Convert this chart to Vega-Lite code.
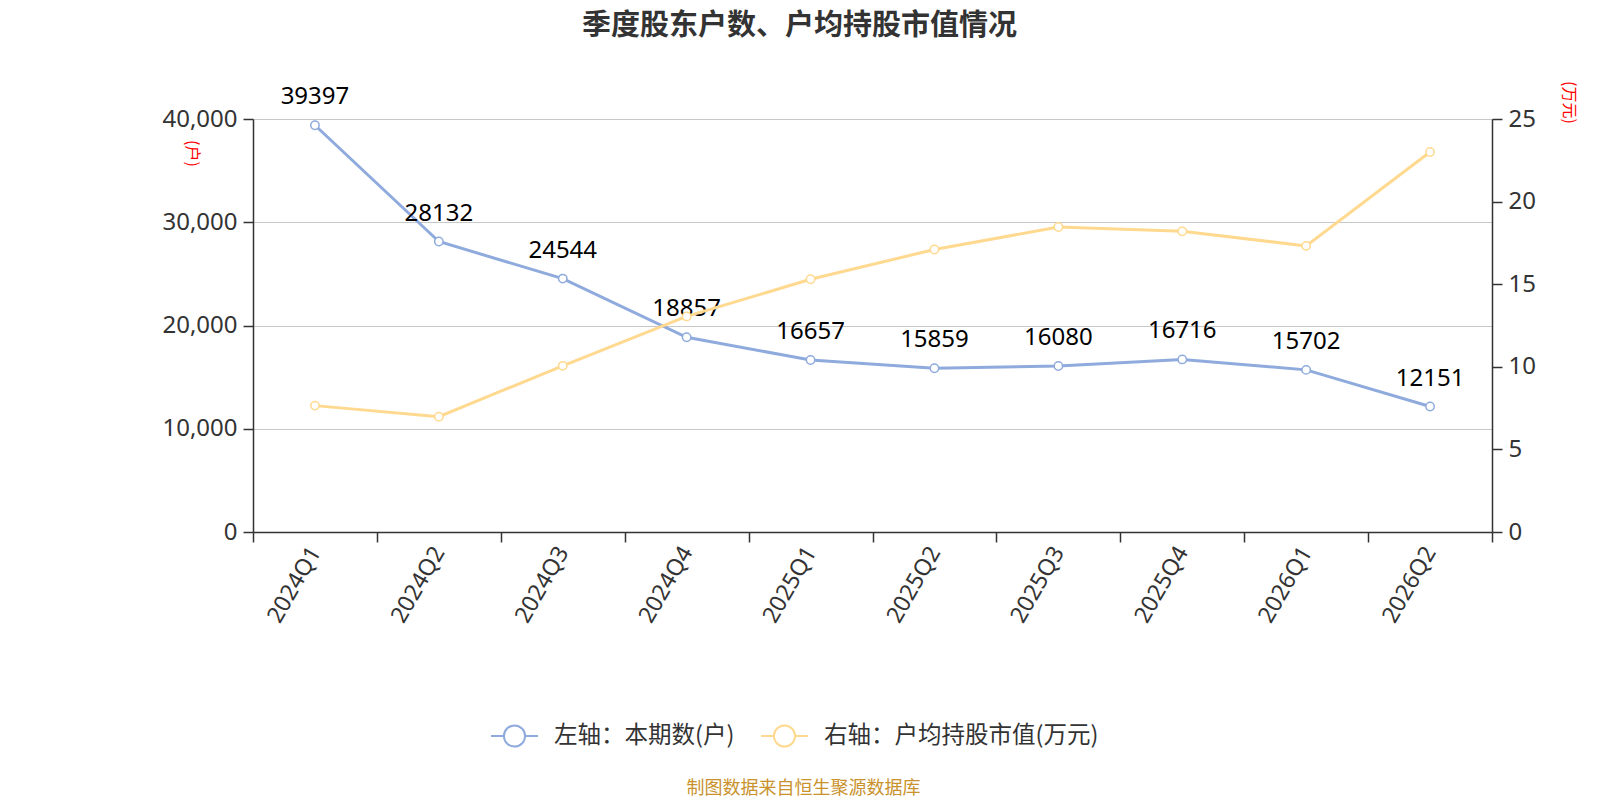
{
  "$schema": "https://vega.github.io/schema/vega-lite/v6.json",
  "width": 1239,
  "height": 413,
  "autosize": {"type": "none"},
  "padding": {"left": 253, "top": 119, "right": 108, "bottom": 268},
  "background": "white",
  "title": {
    "text": "季度股东户数、户均持股市值情况",
    "font": "Noto Sans CJK SC",
    "fontSize": 29,
    "fontWeight": "bold",
    "color": "#333333",
    "anchor": "middle",
    "frame": "group",
    "dx": -73,
    "offset": 40
  },
  "config": {
    "font": "Noto Sans CJK SC",
    "view": {"stroke": null}
  },
  "data": {
    "values": [
      {"quarter": "2024Q1", "holders": 39397, "avgValue": 7.65},
      {"quarter": "2024Q2", "holders": 28132, "avgValue": 6.98},
      {"quarter": "2024Q3", "holders": 24544, "avgValue": 10.06},
      {"quarter": "2024Q4", "holders": 18857, "avgValue": 13.05},
      {"quarter": "2025Q1", "holders": 16657, "avgValue": 15.3},
      {"quarter": "2025Q2", "holders": 15859, "avgValue": 17.1},
      {"quarter": "2025Q3", "holders": 16080, "avgValue": 18.46},
      {"quarter": "2025Q4", "holders": 16716, "avgValue": 18.2},
      {"quarter": "2026Q1", "holders": 15702, "avgValue": 17.32},
      {"quarter": "2026Q2", "holders": 12151, "avgValue": 23.0}
    ]
  },
  "encoding": {
    "x": {
      "field": "quarter",
      "type": "ordinal",
      "sort": null,
      "scale": {"type": "band", "paddingInner": 0, "paddingOuter": 0},
      "axis": {
        "title": "制图数据来自恒生聚源数据库",
        "titleColor": "#c9922d",
        "titleFont": "Noto Sans CJK SC",
        "titleFontSize": 18,
        "titleFontWeight": "normal",
        "titleX": 550,
        "titleY": 256,
        "titleAlign": "center",
        "titleBaseline": "middle",
        "labelAngle": -60,
        "labelAlign": "right",
        "labelBaseline": "middle",
        "labelFontSize": 23,
        "labelColor": "#333333",
        "labelPadding": 6,
        "labelFont": "Noto Sans",
        "domainColor": "#333333",
        "domainWidth": 1.5,
        "tickColor": "#333333",
        "tickWidth": 1.5,
        "tickSize": 10,
        "tickBand": "extent",
        "grid": false
      }
    }
  },
  "layer": [
    {
      "layer": [
        {
          "mark": {"type": "line", "strokeWidth": 3},
          "encoding": {
            "y": {"field": "holders", "type": "quantitative"},
            "color": {
              "datum": "左轴：本期数(户)",
              "scale": {
                "domain": ["左轴：本期数(户)", "右轴：户均持股市值(万元)"],
                "range": ["#8faadc", "#ffd98f"]
              },
              "legend": {
                "title": null,
                "orient": "none",
                "direction": "horizontal",
                "columns": 2,
                "legendX": 237,
                "legendY": 592,
                "symbolType": "M-1,0H-0.45M0.45,0H1M-0.45,0A0.45,0.45 0 1,1 0.45,0A0.45,0.45 0 1,1 -0.45,0Z",
                "symbolSize": 2209,
                "symbolStrokeWidth": 2,
                "symbolFillColor": "white",
                "symbolOpacity": 1,
                "labelFontSize": 23.5,
                "labelColor": "#333333",
                "labelFont": "Noto Sans CJK SC",
                "labelOffset": 15,
                "labelLimit": 400,
                "columnPadding": 22
              }
            }
          }
        },
        {
          "mark": {"type": "point", "shape": "circle", "filled": true, "fill": "white", "stroke": "#8faadc", "strokeWidth": 1.5, "size": 70, "opacity": 1},
          "encoding": {
            "y": {"field": "holders", "type": "quantitative"}
          }
        },
        {
          "mark": {"type": "text", "dy": -28, "fontSize": 24, "color": "#000000", "font": "Noto Sans"},
          "encoding": {
            "y": {"field": "holders", "type": "quantitative"},
            "text": {"field": "holders", "type": "nominal"}
          }
        }
      ],
      "encoding": {
        "y": {
          "field": "holders",
          "type": "quantitative",
          "scale": {"domain": [0, 40000]},
          "axis": {
            "title": "(户)",
            "titleColor": "#ff0000",
            "titleFontSize": 16,
            "titleFontWeight": "normal",
            "titleAngle": 90,
            "titleX": -62,
            "titleY": 34,
            "titleAlign": "center",
            "titleBaseline": "middle",
            "values": [0, 10000, 20000, 30000, 40000],
            "format": ",.0f",
            "labelFontSize": 24,
            "labelColor": "#333333",
            "labelFont": "Noto Sans",
            "labelPadding": 6,
            "domainColor": "#333333",
            "domainWidth": 1.5,
            "tickColor": "#333333",
            "tickWidth": 1.5,
            "tickSize": 10,
            "grid": true,
            "gridColor": "#c8c8c8",
            "gridWidth": 1.2
          }
        }
      }
    },
    {
      "layer": [
        {
          "mark": {"type": "line", "strokeWidth": 3},
          "encoding": {
            "y": {"field": "avgValue", "type": "quantitative"},
            "color": {"datum": "右轴：户均持股市值(万元)"}
          }
        },
        {
          "mark": {"type": "point", "shape": "circle", "filled": true, "fill": "white", "stroke": "#ffd98f", "strokeWidth": 1.5, "size": 70, "opacity": 1},
          "encoding": {
            "y": {"field": "avgValue", "type": "quantitative"}
          }
        }
      ],
      "encoding": {
        "y": {
          "field": "avgValue",
          "type": "quantitative",
          "scale": {"domain": [0, 25]},
          "axis": {
            "orient": "right",
            "title": "(万元)",
            "titleColor": "#ff0000",
            "titleFontSize": 16,
            "titleFontWeight": "normal",
            "titleAngle": 90,
            "titleX": 76,
            "titleY": -17,
            "titleAlign": "center",
            "titleBaseline": "middle",
            "values": [0, 5, 10, 15, 20, 25],
            "labelFontSize": 24,
            "labelColor": "#333333",
            "labelFont": "Noto Sans",
            "labelPadding": 6,
            "domainColor": "#333333",
            "domainWidth": 1.5,
            "tickColor": "#333333",
            "tickWidth": 1.5,
            "tickSize": 10,
            "grid": false
          }
        }
      }
    }
  ],
  "resolve": {"scale": {"y": "independent"}}
}
